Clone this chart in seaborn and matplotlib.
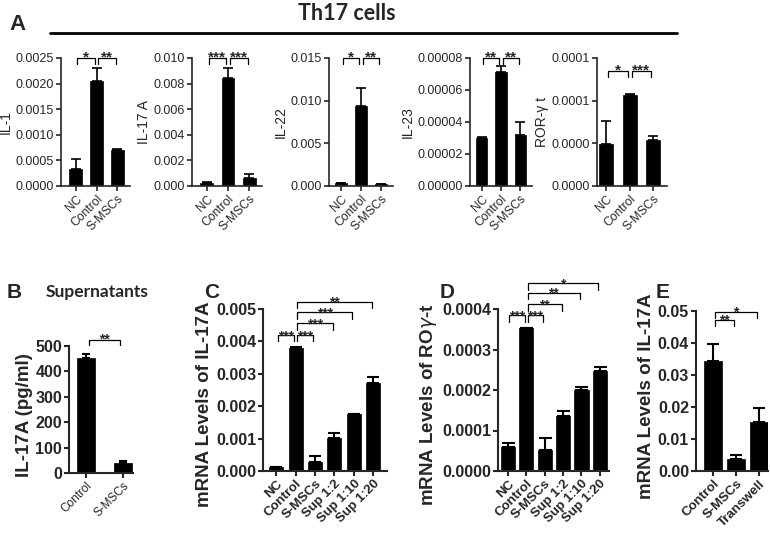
import numpy as np
import pandas as pd
import matplotlib
matplotlib.use("Agg")
import matplotlib.pyplot as plt
import seaborn as sns

# ---- data ----
top_groups = ["NC", "Control", "S-MSCs"]

il1_mean = [0.00034, 0.00206, 0.0007]
il1_err = [0.00018, 0.00025, 0.00002]
il17a_mean = [0.00026, 0.00843, 0.00063]
il17a_err = [0.00002, 0.0008, 0.00034]
il22_mean = [0.00035, 0.0094, 0.0002]
il22_err = [0.00003, 0.0021, 0.00002]
il23_mean = [0.000030, 0.000071, 0.000032]
il23_err = [0.0000005, 0.0000038, 0.000008]
ror_mean = [0.0000487, 0.0001068, 0.0000538]
ror_err = [0.000028, 0.0000012, 0.0000047]

sup_groups = ["Control", "S-MSCs"]
sup_mean = [452, 38]
sup_err = [15, 8]

dil_groups = ["NC", "Control", "S-MSCs", "Sup 1:2", "Sup 1:10", "Sup 1:20"]
c_mean = [0.00011, 0.0038, 0.00029, 0.00103, 0.00176, 0.00271]
c_err = [0.00002, 0.00003, 0.00018, 0.00015, 0.00001, 0.00018]
d_mean = [0.000059, 0.000352, 0.000051, 0.000137, 0.0002, 0.000248]
d_err = [0.000011, 0.000001, 0.000031, 0.000011, 0.000008, 0.000008]

tw_groups = ["Control", "S-MSCs", "Transwell"]
e_mean = [0.0345, 0.0037, 0.0152]
e_err = [0.0052, 0.0013, 0.0046]

# significance comparisons: (from, to, stars, height)
il1_sig = [(0, 1, "*", 0.0025), (1, 2, "**", 0.0025)]
il17a_sig = [(0, 1, "***", 0.010), (1, 2, "***", 0.010)]
il22_sig = [(0, 1, "*", 0.015), (1, 2, "**", 0.015)]
il23_sig = [(0, 1, "**", 0.00008), (1, 2, "**", 0.00008)]
ror_sig = [(0, 1, "*", 0.000135), (1, 2, "***", 0.000135)]
sup_sig = [(0, 1, "**", 524)]
c_sig = [(0, 1, "***", 0.0042), (1, 2, "***", 0.0042), (1, 3, "***", 0.00456),
         (1, 4, "***", 0.0049), (1, 5, "**", 0.00523)]
d_sig = [(0, 1, "***", 0.000385), (1, 2, "***", 0.000385), (1, 3, "**", 0.000412),
         (1, 4, "**", 0.00044), (1, 5, "*", 0.000464)]
e_sig = [(0, 1, "**", 0.0472), (0, 2, "*", 0.0497)]

W, H = 770, 538
sns.set_theme(style="ticks")
plt.rcParams["font.family"] = "sans-serif"
plt.rcParams["font.sans-serif"] = ["Liberation Sans", "DejaVu Sans"]
fig = plt.figure(figsize=(W / 100, H / 100), dpi=100)


def make_ax(x0, x1, ytop, ybot):
    return fig.add_axes([x0 / W, 1 - ybot / H, (x1 - x0) / W, (ybot - ytop) / H])


def draw_panel(ax, groups, mean, err, width, xlim, ylim, yticks, ylabels, ylabel,
               sig, tick_fs, xtick_fs, lab_fs, star_fs, bold, lw, leg, label_y=0.5):
    df = pd.DataFrame({"group": groups, "value": mean})
    sns.barplot(data=df, x="group", y="value", color="black", width=width,
                errorbar=None, ax=ax, saturation=1, edgecolor="black", linewidth=0.5)
    xs = np.arange(len(groups))
    ax.errorbar(xs, mean, yerr=[np.zeros(len(err)), err], fmt="none", ecolor="black",
                elinewidth=lw, capsize=width * 6, capthick=lw)
    weight = "bold" if bold else "normal"
    ax.set_xlim(*xlim)
    ax.set_ylim(*ylim)
    ax.set_yticks(yticks)
    ax.set_yticklabels(ylabels, fontsize=tick_fs, fontweight=weight)
    ax.set_xticks(xs)
    ax.set_xticklabels(groups, rotation=45, ha="right", rotation_mode="anchor",
                       fontsize=xtick_fs, fontweight=weight)
    ax.set_xlabel("")
    ax.set_ylabel(ylabel, fontsize=lab_fs, fontweight=weight, labelpad=2)
    ax.yaxis.label.set_y(label_y)
    sns.despine(ax=ax)
    for s in ["left", "bottom"]:
        ax.spines[s].set_linewidth(lw)
    ax.tick_params(width=lw, length=3.5, pad=1.5)
    span = ylim[1] - ylim[0]
    for i, j, stars, y in sig:
        h = span * leg
        ax.plot([i + 0.08, i + 0.08, j - 0.08, j - 0.08], [y - h, y, y, y - h],
                color="black", lw=0.9, clip_on=False)
        ax.text((i + j) / 2, y - span * 0.05, stars, ha="center", va="bottom",
                fontsize=star_fs, fontweight="bold", clip_on=False)


# ---- top row: Th17 cells ----
top_kw = dict(width=0.6, tick_fs=9, xtick_fs=8.7, lab_fs=10, star_fs=11,
              bold=False, lw=1.2, leg=0.045)
ax = make_ax(61, 130, 58, 186)
draw_panel(ax, top_groups, il1_mean, il1_err, xlim=(-0.7, 2.6), ylim=(0, 0.0025),
           yticks=np.arange(0, 0.00251, 0.0005),
           ylabels=["0.0000", "0.0005", "0.0010", "0.0015", "0.0020", "0.0025"],
           ylabel="IL-1", sig=il1_sig, **top_kw)
ax = make_ax(192, 262, 58, 186)
draw_panel(ax, top_groups, il17a_mean, il17a_err, xlim=(-0.7, 2.6), ylim=(0, 0.010),
           yticks=np.arange(0, 0.0101, 0.002),
           ylabels=["0.000", "0.002", "0.004", "0.006", "0.008", "0.010"],
           ylabel="IL-17 A", sig=il17a_sig, **top_kw)
ax = make_ax(329, 393, 58, 186)
draw_panel(ax, top_groups, il22_mean, il22_err, xlim=(-0.6, 2.6), ylim=(0, 0.015),
           yticks=np.arange(0, 0.0151, 0.005),
           ylabels=["0.000", "0.005", "0.010", "0.015"],
           ylabel="IL-22", sig=il22_sig, **top_kw)
ax = make_ax(470, 532, 58, 186)
draw_panel(ax, top_groups, il23_mean, il23_err, xlim=(-0.6, 2.6), ylim=(0, 0.00008),
           yticks=np.arange(0, 0.0000801, 0.00002),
           ylabels=["0.00000", "0.00002", "0.00004", "0.00006", "0.00008"],
           ylabel="IL-23", sig=il23_sig, **top_kw)
ax = make_ax(597, 667, 58, 186)
draw_panel(ax, top_groups, ror_mean, ror_err, xlim=(-0.4, 2.6), ylim=(0, 0.00015),
           yticks=[0, 0.00005, 0.0001, 0.00015],
           ylabels=["0.0000", "0.0000", "0.0001", "0.0001"],
           ylabel="ROR-\u03b3 t", sig=ror_sig, **top_kw)

fig.text(347 / W, 1 - 14 / H, "Th17 cells", ha="center", va="center",
         fontsize=15.5, fontweight="bold", family=["Lato", "DejaVu Sans"])
fig.add_artist(plt.Line2D([50 / W, 677 / W], [1 - 33 / H, 1 - 33 / H],
                          color="black", lw=2))
fig.text(17 / W, 1 - 24 / H, "A", ha="center", va="center", fontsize=16,
         fontweight="bold")

# ---- bottom row ----
bot_kw = dict(tick_fs=11.5, xtick_fs=9.5, lab_fs=13.5, star_fs=10, bold=True,
              lw=1.5, leg=0.04)
ax = make_ax(69, 133, 346, 473)
draw_panel(ax, sup_groups, sup_mean, sup_err, width=0.5, xlim=(-0.46, 1.27),
           ylim=(0, 500), yticks=[0, 100, 200, 300, 400, 500],
           ylabels=["0", "100", "200", "300", "400", "500"],
           ylabel="IL-17A (pg/ml)", sig=sup_sig, label_y=0.46, **bot_kw)
for t in ax.get_xticklabels():
    t.set_fontweight("normal")
    t.set_fontsize(8.5)

ax = make_ax(263, 387, 309, 471)
draw_panel(ax, dil_groups, c_mean, c_err, width=0.72, xlim=(-0.67, 5.7),
           ylim=(0, 0.005), yticks=np.arange(0, 0.00501, 0.001),
           ylabels=["0.000", "0.001", "0.002", "0.003", "0.004", "0.005"],
           ylabel="mRNA Levels of IL-17A", sig=c_sig, label_y=0.41, **bot_kw)

ax = make_ax(498, 609, 309, 471)
draw_panel(ax, dil_groups, d_mean, d_err, width=0.78, xlim=(-0.54, 5.5),
           ylim=(0, 0.0004), yticks=np.arange(0, 0.000401, 0.0001),
           ylabels=["0.0000", "0.0001", "0.0002", "0.0003", "0.0004"],
           ylabel="mRNA Levels of RO$\\gamma$-t", sig=d_sig, label_y=0.41, **bot_kw)

ax = make_ax(696, 768, 311, 471)
draw_panel(ax, tw_groups, e_mean, e_err, width=0.77, xlim=(-0.74, 2.4),
           ylim=(0, 0.05), yticks=np.arange(0, 0.0501, 0.01),
           ylabels=["0.00", "0.01", "0.02", "0.03", "0.04", "0.05"],
           ylabel="mRNA Levels of IL-17A", sig=e_sig, label_y=0.47, **bot_kw)

for letter, x in [("B", 14), ("C", 212), ("D", 447), ("E", 663)]:
    fig.text(x / W, 1 - 293 / H, letter, ha="center", va="center", fontsize=15,
             fontweight="bold")
fig.text(97 / W, 1 - 292 / H, "Supernatants", ha="center", va="center",
         fontsize=12.5, fontweight="bold", family=["Lato", "DejaVu Sans"])

fig.savefig("out.png", dpi=100)
